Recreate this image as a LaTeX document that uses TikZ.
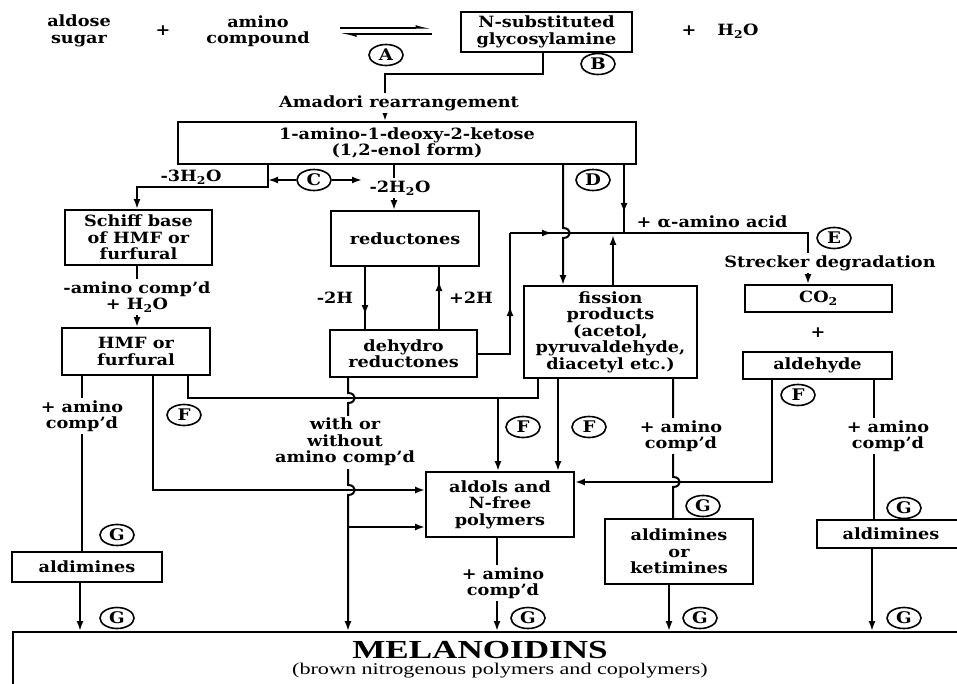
\documentclass[tikz,border=0pt]{standalone}
\usepackage{fontspec}
\setmainfont{DejaVu Serif}[FakeStretch=1.14]
\newfontfamily\melfont{Liberation Serif}[FakeStretch=1.35]
\usetikzlibrary{arrows.meta,shapes.geometric}
\tikzset{
  box/.style={draw, line width=1.8pt, align=center, inner sep=0pt},
  lbl/.style={align=center, inner sep=1.5pt},
  wl/.style={lbl, fill=white, inner sep=2.5pt},
  circ/.style={draw, ellipse, line width=1.6pt, minimum width=34pt, minimum height=21pt, inner sep=0pt, font=\fontsize{16}{16}\selectfont\bfseries},
  arr/.style={-{Latex[length=10pt,width=7pt]}},
  harp/.style={line width=1.5pt, -{Latex[harpoon,length=12pt,width=6pt]}}
}
\begin{document}
\begin{tikzpicture}[x=1pt,y=-1pt,line width=2pt,font=\fontsize{15.5}{16.5}\selectfont\bfseries]
\useasboundingbox (0,0) rectangle (957,684);
\clip (0,0) rectangle (957,684);

% ---------- boxes ----------
\node[box, minimum width=171, minimum height=40] (glyc) at (546.5,32) {N-substituted\\glycosylamine};
\node[box, minimum width=458, minimum height=42] (ket) at (407,143) {1-amino-1-deoxy-2-ketose\\(1,2-enol form)};
\node[box, minimum width=147, minimum height=55] (schiff) at (138.5,237.5) {Schiff base\\of HMF or\\furfural};
\node[box, minimum width=148, minimum height=47] (hmf) at (136,351.5) {HMF or\\furfural};
\node[box, minimum width=148, minimum height=55] (red) at (405,238.5) {reductones};
\node[box, minimum width=147, minimum height=47] (dehyd) at (403.5,353.5) {dehydro\\reductones};
\node[box, minimum width=173, minimum height=92] (fis) at (610.5,332) {fission\\products\\(acetol,\\pyruvaldehyde,\\diacetyl etc.)};
\node[box, minimum width=147, minimum height=27] (co2) at (818.5,298.5) {CO\textsubscript{2}};
\node[box, minimum width=149, minimum height=27] (ald) at (817.5,365.5) {aldehyde};
\node[box, minimum width=148, minimum height=65] (aldols) at (500,504.5) {aldols and\\N-free\\polymers};
\node[box, minimum width=148, minimum height=65] (aldket) at (679,551.5) {aldimines\\or\\ketimines};
\node[box, minimum width=148, minimum height=28] (aldR) at (891,534) {aldimines};
\node[box, minimum width=150, minimum height=30] (aldL) at (87,567) {aldimines};
\node[draw, line width=1.8pt, minimum width=970, minimum height=80, inner sep=0pt] (melan) at (498,672) {};
\node[font={\melfont\bfseries\fontsize{26}{28}\selectfont}] (meltitle) at (480,650) {MELANOIDINS};
\node[font={\melfont\fontsize{16.4}{18}\selectfont}] (melsub) at (500,671) {(brown nitrogenous polymers and copolymers)};

% ---------- top row ----------
\node[lbl] (sugar) at (79,31) {aldose\\sugar};
\node[lbl] (plus1) at (163,31) {+};
\node[lbl] (amino) at (258,31) {amino\\compound};
\node[lbl] (plus2) at (689,31) {+};
\node[lbl] (water) at (738,31) {H\textsubscript{2}O};
\coordinate (e1) at (340,28);
\coordinate (e2) at (432,28);
\coordinate (e3) at (340,34);
\coordinate (e4) at (432,34);
\draw[harp] (e1) -- (e2);
\draw[harp] (e4) -- (e3);

% ---------- connectors ----------
\draw[arr] (543,0 |- glyc.south) -- (543,74) -- (385,74) -- (385,0 |- ket.north);
\draw[arr] (268,0 |- ket.south) -- (268,187) -- (137,187) -- (137,0 |- schiff.north);
\draw[arr] (394,0 |- ket.south) -- (394,0 |- red.north);
\draw[arr] (137,0 |- schiff.south) -- (137,0 |- hmf.north);

% reductones <-> dehydro
\draw[arr] (365,0 |- red.south) -- (365,315);
\draw (365,305) -- (365,0 |- dehyd.north);
\draw[arr] (439,0 |- dehyd.north) -- (439,281);
\draw (439,290) -- (439,0 |- red.south);

% dehydro -> amino acid line
\draw[arr] (dehyd.east |- 0,354) -- (510,354) -- (510,306);
\draw (510,315) -- (510,233);
\draw[arr] (510,233) -- (552,233);
\draw[arr] (545,233) -- (808,233) -- (808,0 |- co2.north);

% D lines
\draw[arr] (563,0 |- ket.south) -- (563,228) .. controls (572,228) and (572,238) .. (563,238) -- (563,0 |- fis.north);
\draw[arr] (624,0 |- ket.south) -- (624,213);
\draw (624,205) -- (624,233);
\draw[arr] (613,0 |- fis.north) -- (613,235);

% from HMF
\draw (82,0 |- hmf.south) -- (82,0 |- aldL.north);
\draw[arr] (153,0 |- hmf.south) -- (153,490) -- (aldols.west |- 0,490);
\draw (188,0 |- hmf.south) -- (188,398) -- (538,398) -- (538,0 |- fis.south);
\draw[arr] (498,398) -- (498,0 |- aldols.north);

% from dehydro down
\draw[arr] (348,0 |- dehyd.south) -- (348,393) .. controls (357,393) and (357,403) .. (348,403) -- (348,485) .. controls (357,485) and (357,495) .. (348,495) -- (348,0 |- melan.north);
\draw[arr] (348,527) -- (aldols.west |- 0,527);

% from fission
\draw[arr] (558,0 |- fis.south) -- (558,0 |- aldols.north);
\draw (673,0 |- fis.south) -- (673,477) .. controls (682,477) and (682,487) .. (673,487) -- (673,0 |- aldket.north);

% from aldehyde
\draw[arr] (772,0 |- ald.south) -- (772,482) -- (aldols.east |- 0,482);
\draw (874,0 |- ald.south) -- (874,0 |- aldR.north);

% to melanoidins
\draw[arr] (80,0 |- aldL.south) -- (80,0 |- melan.north);
\draw[arr] (497,0 |- aldols.south) -- (497,0 |- melan.north);
\draw[arr] (669,0 |- aldket.south) -- (669,0 |- melan.north);
\draw[arr] (872,0 |- aldR.south) -- (872,0 |- melan.north);

% C arrows
\node[circ] (cC) at (314,180) {C};
\draw[arr] (cC.west) -- (268,0 |- cC.west);
\draw[arr] (cC.east) -- (362,0 |- cC.east);

% ---------- labels ----------
\node[wl] (amad) at (399,103) {Amadori rearrangement};
\node[lbl] (m3w) at (191,177) {-3H\textsubscript{2}O};
\node[wl] (m2w) at (400,188) {-2H\textsubscript{2}O};
\node[wl] (amhw) at (137,297) {-amino comp'd\\+ H\textsubscript{2}O};
\node[lbl] (m2h) at (335,298) {-2H};
\node[lbl] (p2h) at (471,298) {+2H};
\node[lbl] (aaa) at (712,222) {+ α-amino acid};
\node[wl] (streck) at (830,263) {Strecker degradation};
\node[lbl] (plus3) at (818,333) {+};
\node[wl] (am1) at (82,416) {+ amino\\comp'd};
\node[wl] (wow) at (345,442) {with or\\without\\amino comp'd};
\node[wl] (am2) at (681,436) {+ amino\\comp'd};
\node[wl] (am3) at (888,436) {+ amino\\comp'd};
\node[wl] (am4) at (503,583) {+ amino\\comp'd};

% ---------- circled letters ----------
\node[circ] (cA) at (386,55) {A};
\node[circ] (cB) at (598,64) {B};
\node[circ] (cD) at (593,180) {D};
\node[circ] (cE) at (834,238) {E};
\node[circ] (cF1) at (184,415) {F};
\node[circ] (cF2) at (523,427) {F};
\node[circ] (cF3) at (589,427) {F};
\node[circ] (cF4) at (798,395) {F};
\node[circ] (cG1) at (117,535) {G};
\node[circ] (cG2) at (117,618) {G};
\node[circ] (cG3) at (528,618) {G};
\node[circ] (cG4) at (703,506) {G};
\node[circ] (cG5) at (700,618) {G};
\node[circ] (cG6) at (904,508) {G};
\node[circ] (cG7) at (904,618) {G};
\end{tikzpicture}
\end{document}
